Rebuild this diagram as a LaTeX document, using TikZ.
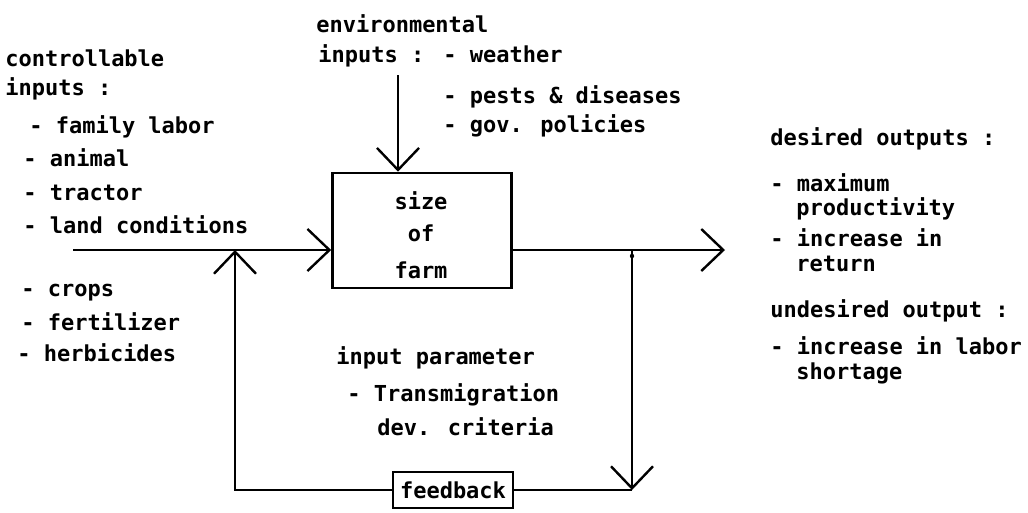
\documentclass[tikz,border=0pt]{standalone}
\usepackage{fontspec}
\newfontfamily\plotfont{DejaVu Sans Mono}
\usetikzlibrary{arrows.meta}
\begin{document}
\begin{tikzpicture}[x=1pt,y=-1pt,
  line width=2.6pt,
  >={Straight Barb[length=22pt,width=42pt,line width=2.4pt]},
  txt/.style={font=\plotfont\bfseries\fontsize{22}{24}\selectfont, anchor=base west, inner sep=0pt},
  ctxt/.style={font=\plotfont\bfseries\fontsize{22}{24}\selectfont, anchor=base, inner sep=0pt},
  blockbox/.style={draw, line width=2.6pt, minimum width=179pt, minimum height=115pt, inner sep=0pt},
  fbbox/.style={draw, line width=2.4pt, minimum width=120pt, minimum height=36pt, inner sep=0pt,
    font=\plotfont\bfseries\fontsize{22}{24}\selectfont}]
\useasboundingbox[fill=white] (0,0) rectangle (1028,512);

% main block
\node[blockbox] (box) at (422,230.5) {};
\node[ctxt] (t1) at (421,209) {size};
\node[ctxt] (t2) at (421,241) {of};
\node[ctxt] (t3) at (421,278) {farm};

% feedback block
\node[fbbox] (fb) at (453,490) {feedback};

% coordinates
\coordinate (inL) at (73,250);
\coordinate (outR) at (725,250);
\coordinate (fbR) at (632,250);
\coordinate (fbL) at (235,250);
\coordinate (envT) at (398,75);

% connectors
\draw[->] (inL) -- (inL -| box.west);
\draw[->] (inL -| box.east) -- (outR);
\draw[->] (envT) -- (envT |- box.north);
\draw[->] (fbR) -- (fbR |- fb.east);
\draw (fbR |- fb.east) -- (fb.east);
\draw[->] (fb.west) -- (fbL |- fb.west) -- (fbL);
\fill (fbR) ++(0,6) circle (2.2pt);

% controllable inputs
\node[txt] (c1) at (4,66) {controllable};
\node[txt] (c2) at (4,95) {inputs :};
\node[txt] (c3) at (28,133) {- family labor};
\node[txt] (c4) at (22,166) {- animal};
\node[txt] (c5) at (22,200) {- tractor};
\node[txt] (c6) at (22,233) {- land conditions};
\node[txt] (c7) at (20,296) {- crops};
\node[txt] (c8) at (20,330) {- fertilizer};
\node[txt] (c9) at (16,361) {- herbicides};

% environmental inputs
\node[txt] (e1) at (315,32) {environmental};
\node[txt] (e2) at (317,62) {inputs :};
\node[txt] (e3) at (442,62) {- weather};
\node[txt] (e4) at (442,103) {- pests \& diseases};
\node[txt] (e5) at (442,132) {- gov. policies};

% input parameter
\node[txt] (p1) at (335,364) {input parameter};
\node[txt] (p2) at (346,401) {- Transmigration};
\node[txt] (p3) at (376,435) {dev. criteria};

% outputs
\node[txt] (o1) at (769,145) {desired outputs :};
\node[txt] (o2) at (769,191) {- maximum};
\node[txt] (o3) at (795,215) {productivity};
\node[txt] (o4) at (769,246) {- increase in};
\node[txt] (o5) at (795,271) {return};
\node[txt] (o6) at (769,317) {undesired output :};
\node[txt] (o7) at (769,354) {- increase in labor};
\node[txt] (o8) at (795,379) {shortage};
\end{tikzpicture}
\end{document}
